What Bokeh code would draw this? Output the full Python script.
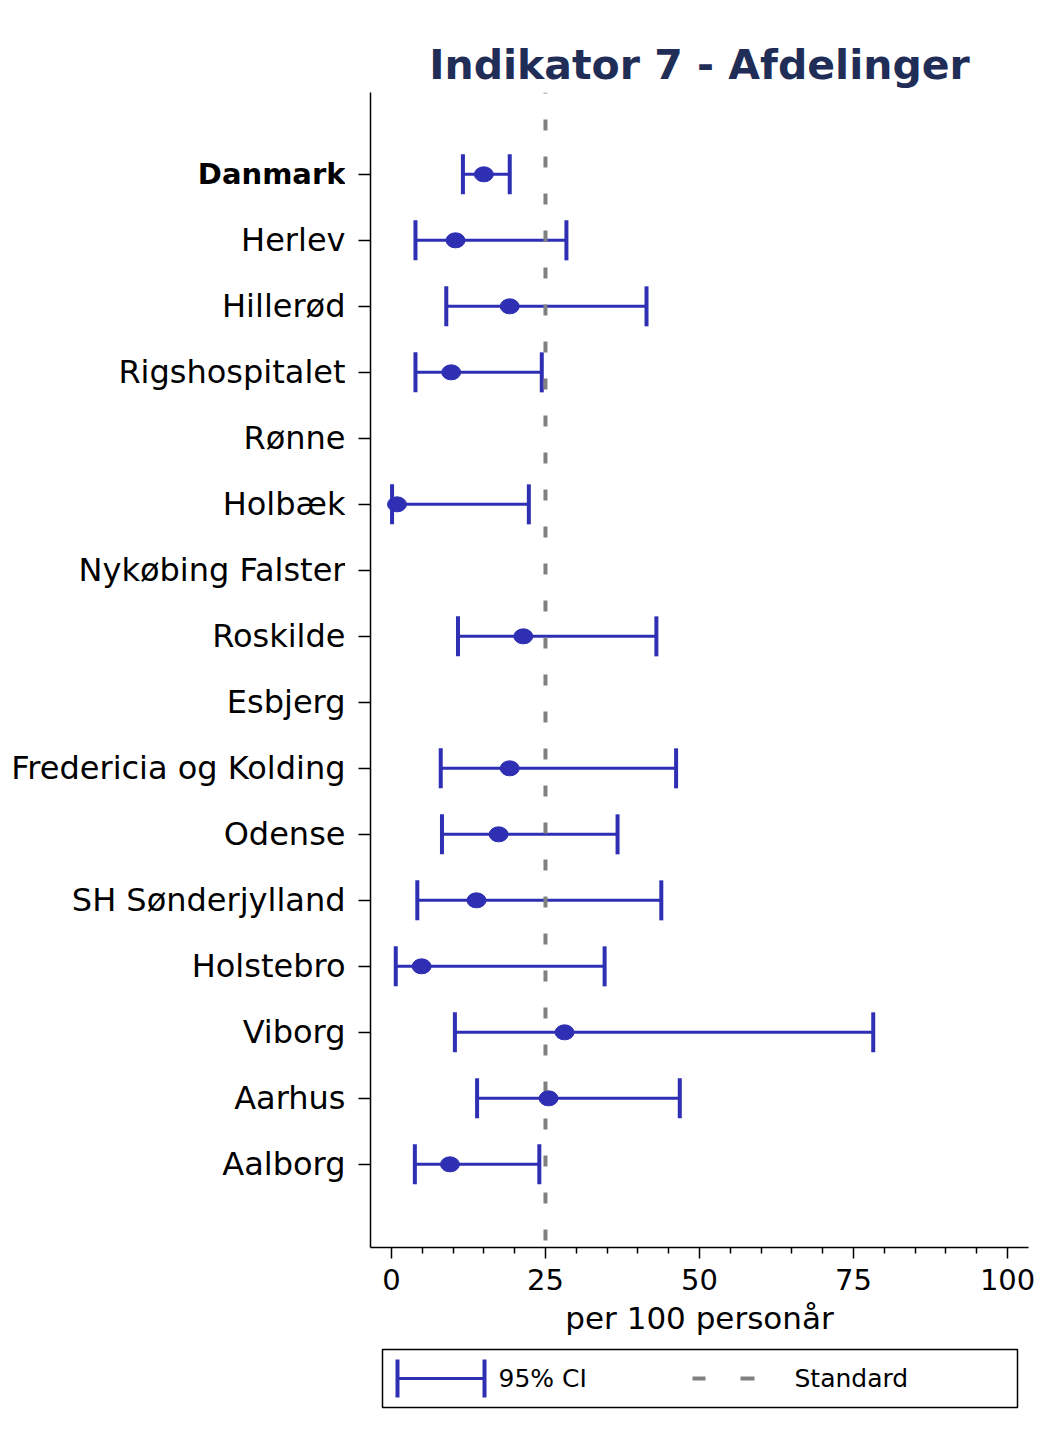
import numpy as np
from bokeh.plotting import figure
from bokeh.models import Range1d, FixedTicker, Span
from bokeh.layouts import column, row
from bokeh.core.properties import value
from bokeh.embed import file_html
from bokeh.resources import INLINE

# ---------------- data ----------------
units = ["Danmark", "Herlev", "Hillerød", "Rigshospitalet", "Rønne", "Holbæk",
         "Nykøbing Falster", "Roskilde", "Esbjerg", "Fredericia og Kolding",
         "Odense", "SH Sønderjylland", "Holstebro", "Viborg", "Aarhus", "Aalborg"]
rate = [15.0, 10.4, 19.2, 9.7, None, 0.9, None, 21.4, None, 19.2, 17.4, 13.8, 4.9, 28.1, 25.5, 9.5]
ci_low = [11.6, 3.9, 8.9, 3.9, None, 0.1, None, 10.8, None, 8.0, 8.2, 4.2, 0.7, 10.3, 13.9, 3.8]
ci_high = [19.2, 28.4, 41.4, 24.4, None, 22.3, None, 43.0, None, 46.2, 36.7, 43.8, 34.6, 78.2, 46.8, 24.0]
standard = 25
x_major_ticks = [0, 25, 50, 75, 100]
x_minor_ticks = [5, 10, 15, 20, 30, 35, 40, 45, 55, 60, 65, 70, 80, 85, 90, 95]
x_label = "per 100 personår"
title_text = "Indikator 7 - Afdelinger"
legend_labels = ["95% CI", "Standard"]

# ---------------- style ----------------
BLUE = "#2F2FB4"
GREY = "#808080"
NAVY = "#1F2D57"
FONT = "DejaVu Sans"

TOP = 92          # frame top (px)
FRAME_H = 1155
FRAME_W = 658
LABEL_W = 345     # width of the label column
GAP = 25          # label column -> frame
BOTTOM = 100

def arr(v):
    return np.array([np.nan if a is None else a for a in v], dtype=float)

r = arr(rate)
lo = arr(ci_low)
hi = arr(ci_high)
ypos = np.arange(len(units), dtype=float)

X0, X1 = -3.4, 103.4
yr = Range1d(len(units) - 1 + 1.26, -1.24)

p = figure(frame_width=FRAME_W, frame_height=FRAME_H, min_border_left=GAP, min_border_top=TOP,
           min_border_right=20, min_border_bottom=BOTTOM,
           x_range=Range1d(X0, X1), y_range=yr,
           output_backend="svg", toolbar_location=None)

p.title.text = title_text
p.title.align = "center"
p.title.text_font = FONT
p.title.text_font_size = "41px"
p.title.text_font_style = "bold"
p.title.text_color = NAVY
p.title.standoff = 7

p.outline_line_color = None
p.xgrid.visible = False
p.ygrid.visible = False

# x axis
xa = p.xaxis[0]
xa.ticker = FixedTicker(ticks=x_major_ticks, minor_ticks=x_minor_ticks)
xa.axis_label = x_label
xa.axis_label_text_font = FONT
xa.axis_label_text_font_size = "31px"
xa.axis_label_text_font_style = "normal"
xa.axis_label_text_color = "black"
xa.axis_label_standoff = 7
xa.major_label_text_font = FONT
xa.major_label_text_font_size = "29px"
xa.major_label_text_color = "black"
xa.major_label_standoff = 10
xa.major_tick_out = 11
xa.major_tick_in = 0
xa.minor_tick_out = 6
xa.minor_tick_in = 0
xa.axis_line_width = 1.5
xa.major_tick_line_width = 1.5
xa.minor_tick_line_width = 1.5
xa.axis_line_color = "black"

# y axis (ticks only; labels are drawn in the label column)
ya = p.yaxis[0]
ya.ticker = FixedTicker(ticks=list(ypos))
ya.major_label_overrides = {float(i): "" for i in range(len(units))}
ya.major_label_standoff = 0
ya.major_tick_out = 12
ya.major_tick_in = 0
ya.minor_tick_line_color = None
ya.axis_line_width = 1.5
ya.major_tick_line_width = 1.5
ya.axis_line_color = "black"

# CI lines + caps
p.segment(x0=lo, y0=ypos, x1=hi, y1=ypos, line_color=BLUE, line_width=3)
p.scatter(x=lo, y=ypos, marker="dash", angle=np.pi / 2, size=40, line_color=BLUE, line_width=4)
p.scatter(x=hi, y=ypos, marker="dash", angle=np.pi / 2, size=40, line_color=BLUE, line_width=4)

# standard line
p.add_layout(Span(location=standard, dimension="height", line_color=GREY, line_width=4,
                  line_dash="11 26", line_dash_offset=10))

# point estimates
pts = p.ellipse(x=r, y=ypos, width=19, height=15, width_units="screen", height_units="screen",
                fill_color=BLUE, line_color=BLUE)
pts.level = "overlay"

# ---------------- label column (shares the y range) ----------------
lf = figure(frame_width=LABEL_W, frame_height=FRAME_H, min_border_left=0, min_border_right=0,
            min_border_top=TOP, min_border_bottom=BOTTOM, x_range=Range1d(0, 1), y_range=yr,
            output_backend="svg", toolbar_location=None)
lf.axis.visible = False
lf.grid.visible = False
lf.outline_line_color = None
edge = np.ones(len(units))
lf.text(x=edge[1:], y=ypos[1:], text=units[1:], text_align="right", text_baseline="middle",
        text_font=value(FONT), text_font_size="32px", text_color="black")
lf.text(x=edge[:1], y=ypos[:1], text=units[:1], text_align="right", text_baseline="middle",
        text_font=value(FONT), text_font_size="29px", text_font_style="bold", text_color="black")

# ---------------- legend (separate panel, pixel coordinates) ----------------
LH = 70
lg = figure(frame_width=FRAME_W, frame_height=LH, min_border_left=LABEL_W + GAP,
            min_border_right=20, min_border_top=0, min_border_bottom=0,
            x_range=Range1d(0, FRAME_W), y_range=Range1d(LH, 0),
            output_backend="svg", toolbar_location=None)
lg.axis.visible = False
lg.grid.visible = False
lg.outline_line_color = None
bx_l, bx_r, bx_t, bx_b = 12, 647, 2, 60
lg.quad(left=[bx_l], right=[bx_r], top=[bx_t], bottom=[bx_b], fill_color="white",
        line_color="black", line_width=1.5)
cy = (bx_t + bx_b) / 2
lg.segment(x0=[27], y0=[cy], x1=[114], y1=[cy], line_color=BLUE, line_width=3)
lg.segment(x0=[27, 114], y0=[cy - 19, cy - 19], x1=[27, 114], y1=[cy + 19, cy + 19],
           line_color=BLUE, line_width=4)
lg.segment(x0=[322, 370], y0=[cy, cy], x1=[335, 384], y1=[cy, cy], line_color=GREY, line_width=4)
lg.text(x=[128, 424], y=[cy, cy], text=legend_labels, text_font=value(FONT),
        text_font_size="25px", text_baseline="middle", text_align="left", text_color="black")

layout = column(row(lf, p, spacing=0), lg, spacing=0)
open("out.html", "w").write(file_html(layout, INLINE))
